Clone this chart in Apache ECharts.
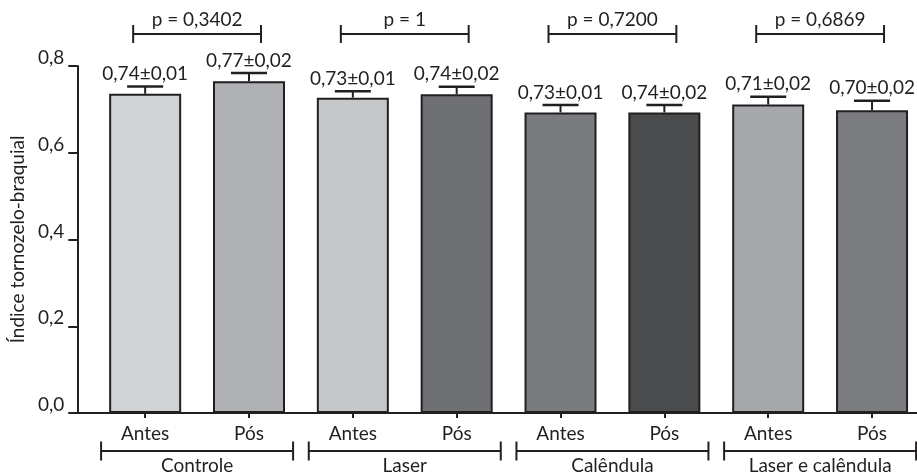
<!DOCTYPE html>
<html>
<head>
<meta charset="utf-8">
<script src="https://cdn.jsdelivr.net/npm/echarts@6/dist/echarts.min.js"></script>
<style>
  html, body { margin: 0; padding: 0; background: #fff; }
  #chart { width: 917px; height: 473px; }
</style>
</head>
<body>
<div id="chart"></div>
<script>
// data
const timepoints = ['Antes', 'Pós', 'Antes', 'Pós', 'Antes', 'Pós', 'Antes', 'Pós']
const groups = ['Controle', 'Laser', 'Calêndula', 'Laser e calêndula']
const means = [0.736, 0.765, 0.727, 0.735, 0.693, 0.693, 0.711, 0.698]
const errors = [0.017, 0.019, 0.015, 0.017, 0.017, 0.017, 0.018, 0.022]
const valueLabels = ['0,74±0,01', '0,77±0,02', '0,73±0,01', '0,74±0,02', '0,73±0,01', '0,74±0,02', '0,71±0,02', '0,70±0,02']
const pValues = ['p = 0,3402', 'p = 1', 'p = 0,7200', 'p = 0,6869']

const barColors = ['#d1d2d4', '#b0b1b4', '#c6c7c9', '#6f7074', '#7a7b7e', '#4a4b4d', '#a7a8ab', '#7b7c7f']
const ink = '#231f20'
const font = 'Lato, "Open Sans", sans-serif'

const chart = echarts.init(document.getElementById('chart'))

const idx = timepoints.map((_, i) => i)

// error bars + mean labels
const renderError = (params, api) => {
  const x = api.value(0)
  const top = api.coord([x, api.value(1) + api.value(2)])
  const base = api.coord([x, api.value(1)])
  const label = valueLabels[params.dataIndex]
  return {
    type: 'group',
    children: [
      { type: 'line', shape: { x1: base[0], y1: base[1], x2: top[0], y2: top[1] }, style: { stroke: ink, lineWidth: 2 } },
      { type: 'line', shape: { x1: top[0] - 18, y1: top[1], x2: top[0] + 18, y2: top[1] }, style: { stroke: ink, lineWidth: 2.5 } },
      { type: 'text', style: { text: label, x: top[0], y: top[1] - 3, align: 'center', verticalAlign: 'bottom', fontSize: 19, fontFamily: font, fill: ink } },
    ],
  }
}

// p-value brackets above each pair
const renderPBracket = (params, api) => {
  const g = api.value(0)
  const left = api.coord([2 * g, 0.8])
  const right = api.coord([2 * g + 1, 0.8])
  const x1 = left[0] - 12
  const x2 = right[0] + 12
  const y = left[1] - 32
  return {
    type: 'group',
    children: [
      { type: 'line', shape: { x1, y1: y, x2, y2: y }, style: { stroke: ink, lineWidth: 2 } },
      { type: 'line', shape: { x1, y1: y - 9, x2: x1, y2: y + 9 }, style: { stroke: ink, lineWidth: 2 } },
      { type: 'line', shape: { x1: x2, y1: y - 9, x2, y2: y + 9 }, style: { stroke: ink, lineWidth: 2 } },
      { type: 'text', style: { text: pValues[g], x: (x1 + x2) / 2, y: y - 14, align: 'center', verticalAlign: 'middle', fontSize: 19, fontFamily: font, fill: ink } },
    ],
  }
}

// group brackets under the axis
const renderGroup = (params, api) => {
  const g = api.value(0)
  const c = api.coord([2 * g + 0.5, 0])
  const x1 = c[0] - 96
  const x2 = c[0] + 96
  const y = c[1] + 38
  return {
    type: 'group',
    children: [
      { type: 'line', shape: { x1, y1: y, x2, y2: y }, style: { stroke: ink, lineWidth: 2 } },
      { type: 'line', shape: { x1, y1: y - 9.5, x2: x1, y2: y + 9.5 }, style: { stroke: ink, lineWidth: 2 } },
      { type: 'line', shape: { x1: x2, y1: y - 9.5, x2, y2: y + 9.5 }, style: { stroke: ink, lineWidth: 2 } },
      { type: 'text', style: { text: groups[g], x: c[0], y: y + 15, align: 'center', verticalAlign: 'middle', fontSize: 19, fontFamily: font, fill: ink } },
    ],
  }
}

const option = {
  backgroundColor: '#fff',
  animation: false,
  grid: { left: 76, right: 0, top: 66, bottom: 60 },
  xAxis: {
    type: 'value',
    min: -0.654,
    max: 7.433,
    splitLine: { show: false },
    axisLine: { show: true, onZero: false, lineStyle: { color: ink, width: 2 } },
    axisTick: { show: true, customValues: idx, length: 5, lineStyle: { color: ink, width: 2 } },
    axisLabel: {
      customValues: idx,
      formatter: v => timepoints[Math.round(v)],
      color: ink,
      fontSize: 19,
      fontFamily: font,
      margin: 11,
    },
  },
  yAxis: {
    type: 'value',
    min: 0,
    max: 0.8,
    interval: 0.2,
    name: 'Índice tornozelo-braquial',
    nameLocation: 'middle',
    nameGap: 48,
    nameTextStyle: { color: ink, fontSize: 19, fontFamily: font },
    splitLine: { show: false },
    axisLine: { show: true, onZero: false, lineStyle: { color: ink, width: 2 } },
    axisTick: { show: true, length: 9, lineStyle: { color: ink, width: 2 } },
    axisLabel: {
      formatter: v => v.toFixed(1).replace('.', ','),
      color: ink,
      fontSize: 19,
      fontFamily: font,
      margin: 13,
      verticalAlign: 'bottom',
      lineHeight: 16,
    },
  },
  series: [
    {
      type: 'bar',
      barWidth: 72,
      data: means.map((m, i) => ({
        value: [i, m],
        itemStyle: { color: barColors[i], borderColor: ink, borderWidth: 2 },
      })),
    },
    {
      type: 'custom',
      clip: false,
      renderItem: renderError,
      data: means.map((m, i) => [i, m, errors[i]]),
      z: 3,
    },
    {
      type: 'custom',
      clip: false,
      renderItem: renderPBracket,
      data: pValues.map((_, g) => [g]),
    },
    {
      type: 'custom',
      clip: false,
      renderItem: renderGroup,
      data: groups.map((_, g) => [g]),
    },
  ],
}

chart.setOption(option)
window.addEventListener('resize', () => chart.resize())
</script>
</body>
</html>
